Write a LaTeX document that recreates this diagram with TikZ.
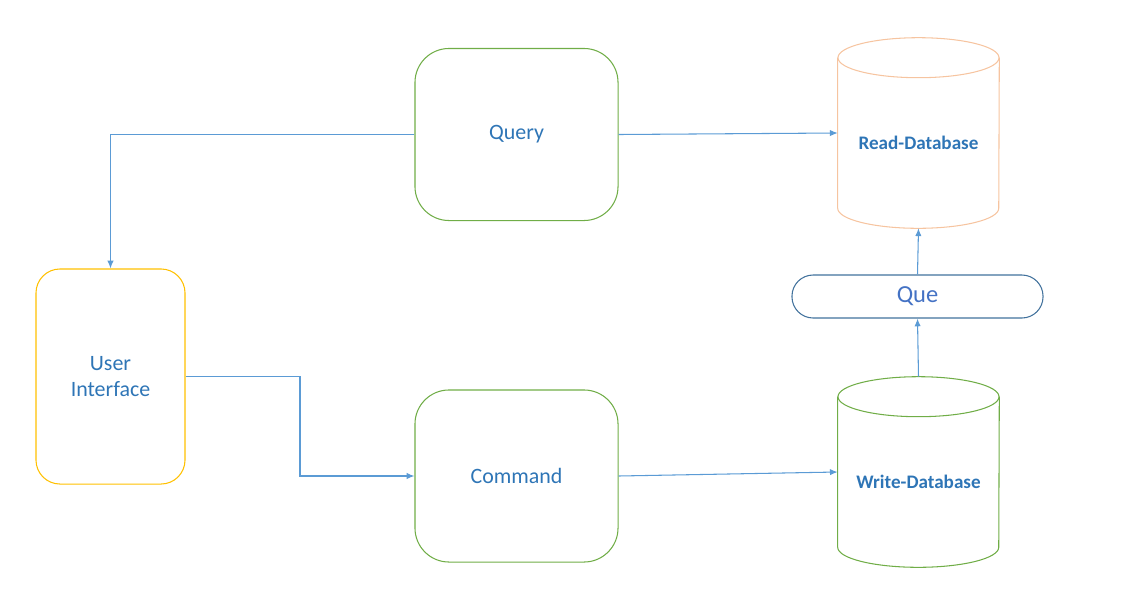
\documentclass[tikz,border=0pt]{standalone}
\usepackage{fontspec}
\setmainfont{Carlito}
\usetikzlibrary{arrows.meta, positioning, calc}
\definecolor{msblue}{RGB}{46, 117, 182}
\definecolor{quetext}{RGB}{68, 114, 196}
\definecolor{queline}{RGB}{65, 113, 156}
\definecolor{arrowblue}{RGB}{91, 155, 213}
\definecolor{msgreen}{RGB}{112, 173, 71}
\definecolor{msyellow}{RGB}{255, 192, 0}
\definecolor{mspeach}{RGB}{246, 196, 160}

% cylinder outline around a named node
\newcommand{\dbshape}[2]{%
  \draw[#2, line width=0.75pt] ($(#1.north)+(0,-0.5cm)$) ellipse[x radius=2.0125cm, y radius=0.5cm];
  \draw[#2, line width=0.75pt] ($(#1.north west)+(0,-0.5cm)$) -- ($(#1.south west)+(0,0.5cm)$)
    arc[start angle=180, end angle=360, x radius=2.0125cm, y radius=0.5cm]
    -- ($(#1.north east)+(0,-0.5cm)$);
}

\begin{document}
\begin{tikzpicture}[
  x=0.025cm, y=-0.025cm,
  >=Latex,
  box/.style={draw, rounded corners=0.85cm, line width=0.75pt, text=msblue, align=center,
    font=\fontsize{15.6}{19}\selectfont, minimum width=5.075cm, minimum height=4.3cm},
  greenbox/.style={box, draw=msgreen},
  uibox/.style={box, draw=msyellow, rounded corners=0.6cm, minimum width=3.725cm, minimum height=5.375cm},
  dbnode/.style={inner sep=0pt, minimum width=4.025cm, minimum height=4.75cm},
  dblabel/.style={yshift=-0.25cm, text=msblue, font=\fontsize{13.6}{16}\selectfont\bfseries},
  quebox/.style={draw=queline, line width=0.75pt, rounded corners=0.53cm, text=quetext,
    font=\fontsize{17.4}{20}\selectfont, minimum width=6.275cm, minimum height=1.075cm},
  arrow/.style={-{Latex[length=5.5pt, width=4.5pt]}, arrowblue, line width=0.75pt}
]
  \useasboundingbox (0,0) rectangle (1132,614);

  % Query and Command
  \node[greenbox] (query) at (516.5,134.5) {Query};
  \node[greenbox] (command) at (516.5,476) {Command};

  % User Interface
  \node[uibox] (ui) at (110.5,376.5) {User\\Interface};

  % Databases
  \node[dbnode, label={[dblabel]center:Read-Database}] (readdb) at (918.5,133) {};
  \dbshape{readdb}{mspeach}
  \node[dbnode, label={[dblabel]center:Write-Database}] (writedb) at (918.5,472) {};
  \dbshape{writedb}{msgreen}

  % Que
  \node[quebox] (que) at (917.5,296.5) {Que};

  % Connecting arrows
  \draw[arrow] (query.west) -| (ui.north);
  \draw[arrow] (query.east) -- (readdb.west);
  \draw[arrow] (ui.east) -| ($(ui.east)!0.5!(command.west)$) |- (command.west);
  \draw[arrow] (command.east) -- (writedb.west);
  \draw[arrow] (writedb.north) -- (que.south);
  \draw[arrow] (que.north) -- (readdb.south);
\end{tikzpicture}
\end{document}
